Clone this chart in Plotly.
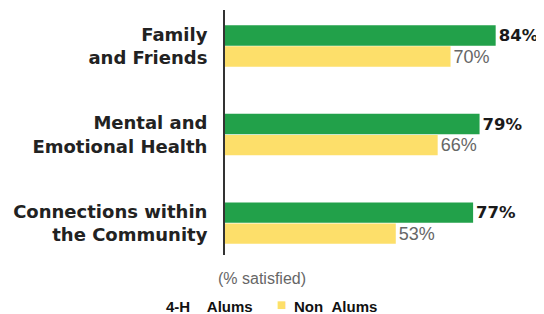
import plotly.graph_objects as go

categories = ["Family<br>and Friends", "Mental and<br>Emotional Health", "Connections within<br>the Community"]
alums = [84, 79, 77]
non_alums = [70, 66, 53]
series_names = ["4-H Alums", "Non Alums"]
axis_note = "(% satisfied)"

GREEN = "#22a14a"
YELLOW = "#fddf6a"

# The page body has an 8px default margin; size the figure to the visible area.
OFF = 8
W, H = 544 - OFF, 314 - OFF
ML, MR, MT, MB = 225 - OFF, 0, 10 - OFF, 59

fig = go.Figure()
fig.add_trace(go.Bar(
    y=categories, x=alums, orientation="h", name=series_names[0],
    marker=dict(color=GREEN, line=dict(width=0)),
    text=[f"{v}%" for v in alums], textposition="outside", cliponaxis=False,
    textfont=dict(family="DejaVu Sans, sans-serif", size=16.5, color="#1a1a1a", weight="bold"),
    showlegend=False,
))
fig.add_trace(go.Bar(
    y=categories, x=non_alums, orientation="h", name=series_names[1],
    marker=dict(color=YELLOW, line=dict(width=0)),
    text=[f"{v}%" for v in non_alums], textposition="outside", cliponaxis=False,
    textfont=dict(family="Liberation Sans, Arial, sans-serif", size=18, color="#666666"),
    showlegend=False,
))

fig.update_layout(
    width=W, height=H,
    margin=dict(l=ML, r=MR, t=MT, b=MB),
    paper_bgcolor="white", plot_bgcolor="white",
    barmode="group", bargap=0.525, bargroupgap=0.03,
    xaxis=dict(range=[0, 99], visible=False, automargin=False),
    yaxis=dict(
        categoryorder="array", categoryarray=categories,
        range=[2.36, -0.407], automargin=False,
        showline=True, linecolor="#333333", linewidth=2,
        showgrid=False, zeroline=False,
        ticks="outside", ticklen=12, tickcolor="rgba(0,0,0,0)",
        tickfont=dict(family="DejaVu Sans, sans-serif", size=18, color="#222222", weight="bold"),
    ),
)

plot_w = W - ML - MR
plot_h = H - MT - MB
def px(x):
    return (x - OFF - ML) / plot_w
def py(y):
    return (H - MB - (y - OFF)) / plot_h

fig.add_annotation(text=axis_note, x=px(262), y=py(278), xref="paper", yref="paper",
                   xanchor="center", yanchor="middle", showarrow=False,
                   font=dict(family="Liberation Sans, Arial, sans-serif", size=16, color="#666666"))
fig.add_annotation(text="4-H&nbsp;&nbsp;&nbsp;&nbsp;Alums", x=px(164), y=py(306), xref="paper", yref="paper",
                   xanchor="left", yanchor="middle", showarrow=False,
                   font=dict(family="Liberation Sans Narrow, Liberation Sans, sans-serif", size=15, color="#111111", weight="bold"))
fig.add_annotation(text="■", x=px(281.5), y=py(304), xref="paper", yref="paper",
                   xanchor="center", yanchor="middle", showarrow=False,
                   font=dict(family="DejaVu Sans, sans-serif", size=10, color=YELLOW))
fig.add_annotation(text="Non&nbsp;&nbsp;Alums", x=px(292), y=py(306), xref="paper", yref="paper",
                   xanchor="left", yanchor="middle", showarrow=False,
                   font=dict(family="Liberation Sans Narrow, Liberation Sans, sans-serif", size=15, color="#111111", weight="bold"))

fig.write_html("out.html")
